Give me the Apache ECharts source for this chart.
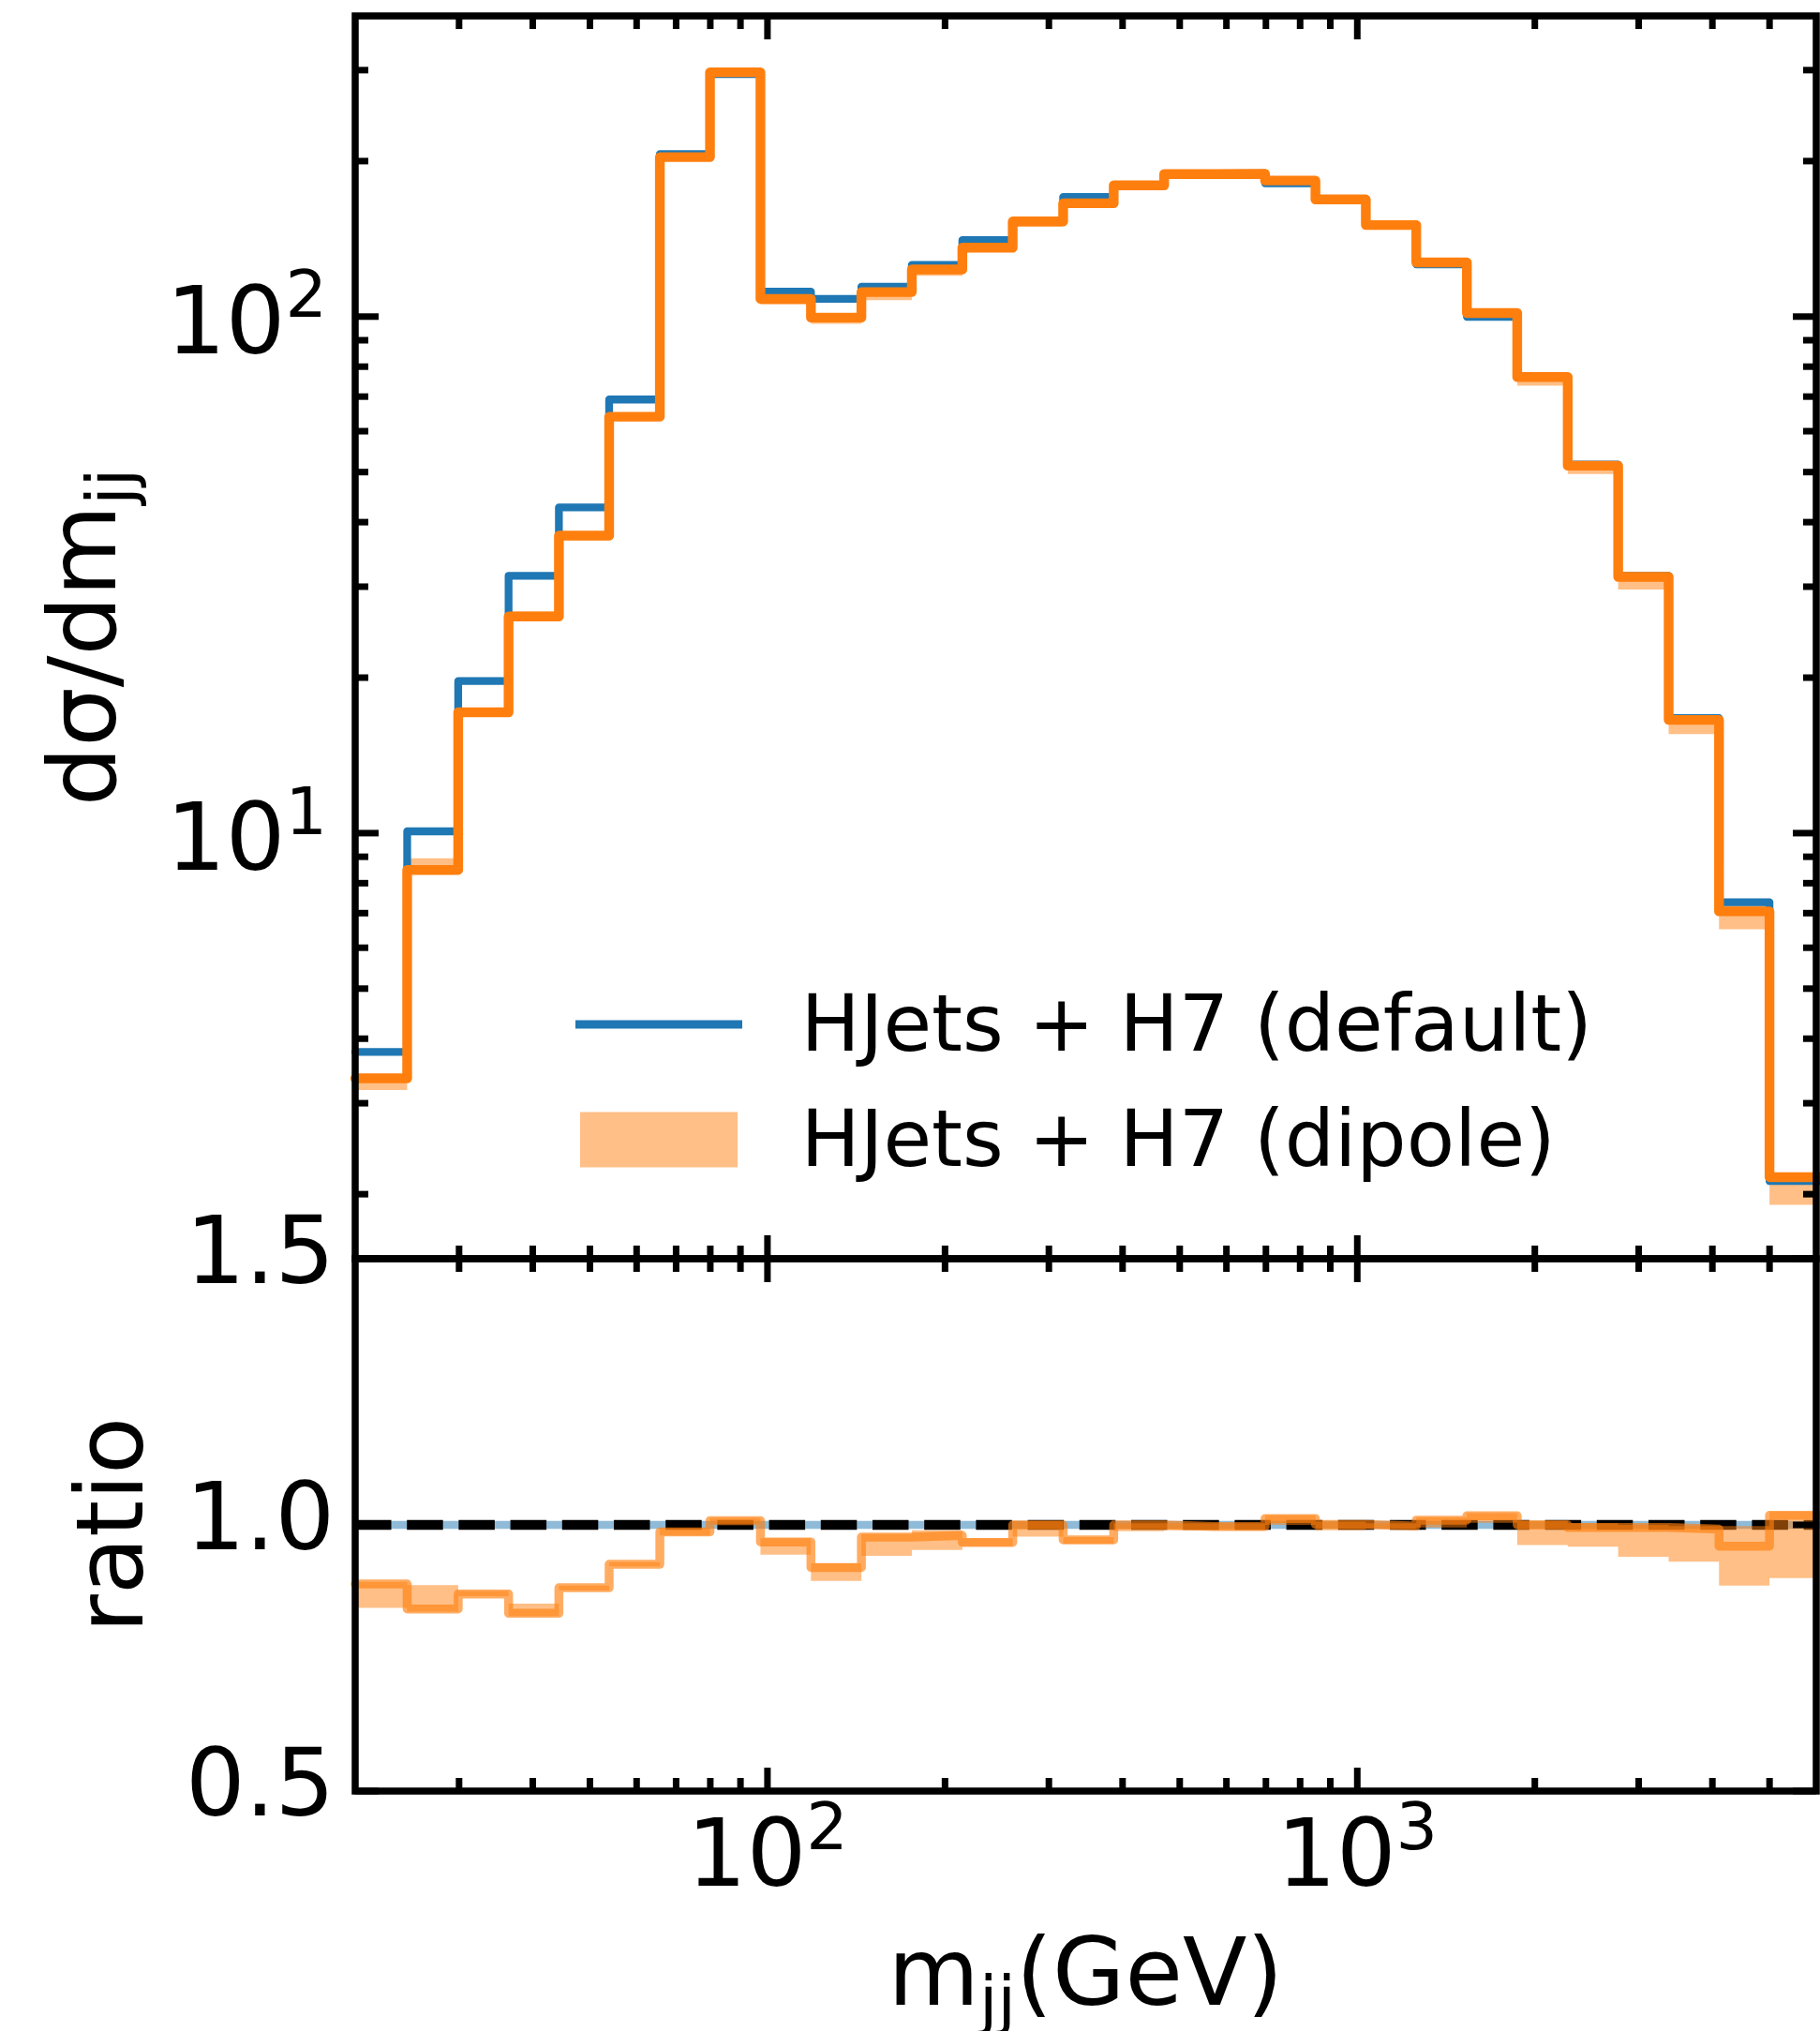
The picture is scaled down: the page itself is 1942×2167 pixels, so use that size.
<!DOCTYPE html>
<html><head><meta charset="utf-8">
<script src="https://cdn.jsdelivr.net/npm/echarts@6/dist/echarts.min.js"></script>
<style>html,body{margin:0;padding:0;background:#fff}#c{width:1942px;height:2167px}</style>
</head><body><div id="c"></div>
<script>
// ---- data ----
const binEdges = [20, 24.5, 29.9, 36.4, 44.3, 53.9, 65.7, 79.9, 97.3, 118.5, 144.3, 175.7, 214, 260.5, 317.2, 386.4, 470.5, 572.8, 697.7, 849.3, 1034, 1259, 1534, 1867, 2274, 2769, 3372, 4105, 4999, 6087];
const defaultVals = [3.77, 10.08, 19.7, 31.5, 42.7, 69.1, 206.3, 294.8, 111.8, 108.2, 114.2, 125.9, 140.6, 152.8, 170.5, 179.5, 189.3, 189.5, 181.2, 168.4, 150.7, 126.2, 99.9, 76.4, 51.7, 31.5, 16.7, 7.35, 2.12];
const ratioVals = [0.889, 0.842, 0.870, 0.834, 0.882, 0.926, 0.987, 1.008, 0.968, 0.920, 0.977, 0.980, 0.967, 1.000, 0.972, 1.000, 0.997, 0.997, 1.012, 1.001, 0.998, 1.009, 1.017, 1.000, 0.995, 0.995, 0.992, 0.960, 1.018];
const ratioLo = [0.844, 0.837, 0.866, 0.829, 0.877, 0.922, 0.980, 1.002, 0.944, 0.895, 0.942, 0.953, 0.960, 0.978, 0.965, 0.988, 0.990, 0.990, 1.000, 0.990, 0.993, 0.995, 1.004, 0.962, 0.959, 0.940, 0.931, 0.886, 0.900];
const ratioHi = [0.893, 0.887, 0.876, 0.852, 0.886, 0.930, 0.994, 1.013, 0.975, 0.928, 0.983, 0.990, 0.975, 1.007, 0.977, 1.003, 1.003, 1.003, 1.018, 1.006, 1.003, 1.014, 1.022, 1.008, 1.003, 1.000, 0.998, 0.998, 1.025];
const xMajorTicks = [100, 1000];
const xMinorTicks = [30, 40, 50, 60, 70, 80, 90, 200, 300, 400, 500, 600, 700, 800, 900, 2000, 3000, 4000, 5000];
const yMajorTicks = [10, 100];
const yMinorTicks = [2, 3, 4, 5, 6, 7, 8, 9, 20, 30, 40, 50, 60, 70, 80, 90, 200, 300];
const ratioTicks = [0.5, 1.0, 1.5];
const seriesNames = ['HJets + H7 (default)', 'HJets + H7 (dipole)'];

// ---- derived ----
const dipoleVals = defaultVals.map((v, i) => v * ratioVals[i]);
const bandLoTop = defaultVals.map((v, i) => v * ratioLo[i]);
const bandHiTop = defaultVals.map((v, i) => v * ratioHi[i]);
const ratioDefault = defaultVals.map(v => v / v);
const N = defaultVals.length;
function stepData(vals) {
  const d = vals.map((v, i) => [binEdges[i], v]);
  d.push([binEdges[N], vals[N - 1]]);
  return d;
}
function bandData(lo, hi) {
  return lo.map((l, i) => [binEdges[i], binEdges[i + 1], l, hi[i]]);
}
const FONT = 'DejaVu Sans';

function bandRender(params, api) {
  if (params.dataIndex !== 0) return null;
  const cs = params.coordSys;
  const x0 = cs.x, x1 = cs.x + cs.width;
  const cx = p => Math.max(x0, Math.min(x1, p));
  const n = params.dataInsideLength;
  const up = [], dn = [];
  for (let i = 0; i < n; i++) {
    const xl = api.value(0, i), xh = api.value(1, i), lo = api.value(2, i), hi = api.value(3, i);
    const a = api.coord([xl, hi]), b = api.coord([xh, hi]);
    const c = api.coord([xl, lo]), d = api.coord([xh, lo]);
    up.push([cx(a[0]), a[1]], [cx(b[0]), b[1]]);
    dn.push([cx(c[0]), c[1]], [cx(d[0]), d[1]]);
  }
  return { type: 'polygon', shape: { points: up.concat(dn.reverse()) },
    style: { fill: '#ff7f0e', opacity: 0.5 } };
}
function makeTickRender(xRef, yRef) {
  return function (params, api) {
    const cs = params.coordSys;
    const v = api.value(0), k = api.value(1);
    const len = (k === 1 || k === 3) ? 25 : 14;
    const st = { stroke: '#000', lineWidth: 7 };
    let lines;
    if (k <= 2) {
      const px = api.coord([v, yRef])[0];
      lines = [[px, cs.y, px, cs.y + len], [px, cs.y + cs.height, px, cs.y + cs.height - len]];
    } else {
      const py = api.coord([xRef, v])[1];
      lines = [[cs.x, py, cs.x + len, py], [cs.x + cs.width, py, cs.x + cs.width - len, py]];
    }
    return { type: 'group', children: lines.map(l => ({ type: 'line',
      shape: { x1: l[0], y1: l[1], x2: l[2], y2: l[3] }, style: st })) };
  };
}
const topTicks = [].concat(xMajorTicks.map(v => [v, 1]), xMinorTicks.map(v => [v, 2]),
  yMajorTicks.map(v => [v, 3]), yMinorTicks.map(v => [v, 4]));
const ratioTickData = [].concat(xMajorTicks.map(v => [v, 1]), xMinorTicks.map(v => [v, 2]),
  ratioTicks.map(v => [v, 3]));

function pow10Label(v) {
  const l = Math.log10(v), n = Math.round(l);
  if (Math.abs(l - n) > 1e-6) return '';
  return '{a|10}{s|' + n + '}';
}
const supRich = {
  a: { fontFamily: FONT, fontSize: 100, color: '#000', verticalAlign: 'bottom' },
  s: { fontFamily: FONT, fontSize: 70, color: '#000', verticalAlign: 'top', padding: [0, 0, 46, 0] }
};
const subRich = {
  a: { fontFamily: FONT, fontSize: 100, color: '#000', verticalAlign: 'top' },
  b: { fontFamily: FONT, fontSize: 70, color: '#000', verticalAlign: 'bottom', padding: [41.5, 0, 0, 0] }
};
const legendRich = gap => ({
  g: { width: gap, fontSize: 84, fontFamily: FONT },
  t: { fontSize: 84, fontFamily: FONT, color: '#000', padding: [13, 0, 0, 0] }
});
const noAxisBits = { axisLine: { show: false }, axisTick: { show: false }, splitLine: { show: false }, minorTick: { show: false } };

const chart = echarts.init(document.getElementById('c'), null, { renderer: 'canvas', width: 1942, height: 2167 });
chart.setOption({
  animation: false,
  backgroundColor: '#fff',
  textStyle: { fontFamily: FONT },
  grid: [
    { left: 379, top: 17, width: 1559, height: 1326, show: true, borderColor: '#000', borderWidth: 7.5, z: 10,
      backgroundColor: 'transparent', containLabel: false, outerBoundsMode: 'none' },
    { left: 379, top: 1343, width: 1559, height: 568, show: true, borderColor: '#000', borderWidth: 7.5, z: 10,
      backgroundColor: 'transparent', containLabel: false, outerBoundsMode: 'none' }
  ],
  legend: [
    { data: [{ name: seriesNames[0], icon: 'rect', itemStyle: { color: '#1f77b4', borderWidth: 0 } }],
      left: 614, top: 1051, padding: 0, itemWidth: 178, itemHeight: 9, selectedMode: false,
      formatter: n => '{g| }{t|' + n + '}',
      textStyle: { fontFamily: FONT, fontSize: 84, color: '#000', rich: legendRich(57.5) } },
    { data: [{ name: seriesNames[1], icon: 'rect', itemStyle: { color: '#ffbf86', borderWidth: 0, opacity: 1 } }],
      left: 619, top: 1174, padding: 0, itemWidth: 168, itemHeight: 59, selectedMode: false,
      formatter: n => '{g| }{t|' + n + '}',
      textStyle: { fontFamily: FONT, fontSize: 84, color: '#000', rich: legendRich(62.5) } }
  ],
  xAxis: [
    Object.assign({ gridIndex: 0, type: 'log', logBase: 10, min: 20, max: 6000, axisLabel: { show: false } }, noAxisBits),
    Object.assign({ gridIndex: 1, type: 'log', logBase: 10, min: 20, max: 6000,
      axisLabel: { formatter: pow10Label, rich: supRich, margin: 9 },
      name: '{a|m}{b|jj}{a|(GeV)}', nameLocation: 'middle', nameGap: 152,
      nameTextStyle: { rich: subRich } }, noAxisBits)
  ],
  yAxis: [
    Object.assign({ gridIndex: 0, type: 'log', logBase: 10, min: 1.5, max: 382,
      axisLabel: { formatter: pow10Label, rich: supRich, margin: 30, padding: [11, 0, 0, 0] },
      name: '{a|dσ/dm}{b|jj}', nameLocation: 'middle', nameRotate: 90, nameGap: 220,
      nameTextStyle: { rich: subRich } }, noAxisBits),
    Object.assign({ gridIndex: 1, type: 'value', min: 0.5, max: 1.5, interval: 0.5,
      axisLabel: { formatter: v => v.toFixed(1), fontFamily: FONT, fontSize: 100, color: '#000', margin: 22, padding: [28, 0, 0, 0], showMinLabel: true, showMaxLabel: true },
      name: 'ratio', nameLocation: 'middle', nameRotate: 90, nameGap: 203,
      nameTextStyle: { fontFamily: FONT, fontSize: 100, color: '#000' } }, noAxisBits)
  ],
  series: [
    { type: 'custom', name: seriesNames[1], xAxisIndex: 0, yAxisIndex: 0, z: 2, silent: true,
      itemStyle: { color: '#ffbf86' }, encode: { x: [0, 1], y: [2, 3] },
      data: bandData(bandLoTop, bandHiTop), renderItem: bandRender },
    { type: 'line', name: seriesNames[0], xAxisIndex: 0, yAxisIndex: 0, z: 3, step: 'end', symbol: 'none', showSymbol: false, silent: true,
      itemStyle: { color: '#1f77b4' }, lineStyle: { color: '#1f77b4', width: 8.3, cap: 'round', join: 'round' },
      data: stepData(defaultVals) },
    { type: 'line', name: 'dipole central', xAxisIndex: 0, yAxisIndex: 0, z: 4, step: 'end', symbol: 'none', showSymbol: false, silent: true,
      itemStyle: { color: '#ff7f0e' }, lineStyle: { color: '#ff7f0e', width: 10.4, cap: 'round', join: 'round' },
      data: stepData(dipoleVals) },
    { type: 'line', name: 'default ratio', xAxisIndex: 1, yAxisIndex: 1, z: 2, step: 'end', symbol: 'none', showSymbol: false, silent: true,
      itemStyle: { color: '#1f77b4' }, lineStyle: { color: '#1f77b4', width: 8.3, opacity: 0.5 },
      data: stepData(ratioDefault),
      markLine: { silent: true, z: 3, symbol: ['none', 'none'], label: { show: false }, animation: false,
        lineStyle: { color: '#000', width: 10.4, type: [38.5, 16.7], opacity: 1 },
        emphasis: { disabled: true }, data: [{ yAxis: 1 }] } },
    { type: 'custom', name: 'ratio band', xAxisIndex: 1, yAxisIndex: 1, z: 4, silent: true,
      itemStyle: { color: '#ffbf86' }, encode: { x: [0, 1], y: [2, 3] },
      data: bandData(ratioLo, ratioHi), renderItem: bandRender },
    { type: 'line', name: 'dipole ratio', xAxisIndex: 1, yAxisIndex: 1, z: 5, step: 'end', symbol: 'none', showSymbol: false, silent: true,
      itemStyle: { color: '#ff7f0e' }, lineStyle: { color: '#ff7f0e', width: 9.5, opacity: 0.65, cap: 'round', join: 'round' },
      data: stepData(ratioVals) },
    { type: 'custom', name: 'ticks top', xAxisIndex: 0, yAxisIndex: 0, z: 12, silent: true,
      data: topTicks, renderItem: makeTickRender(100, 10) },
    { type: 'custom', name: 'ticks ratio', xAxisIndex: 1, yAxisIndex: 1, z: 12, silent: true,
      data: ratioTickData, renderItem: makeTickRender(100, 1) }
  ]
});
</script></body></html>
